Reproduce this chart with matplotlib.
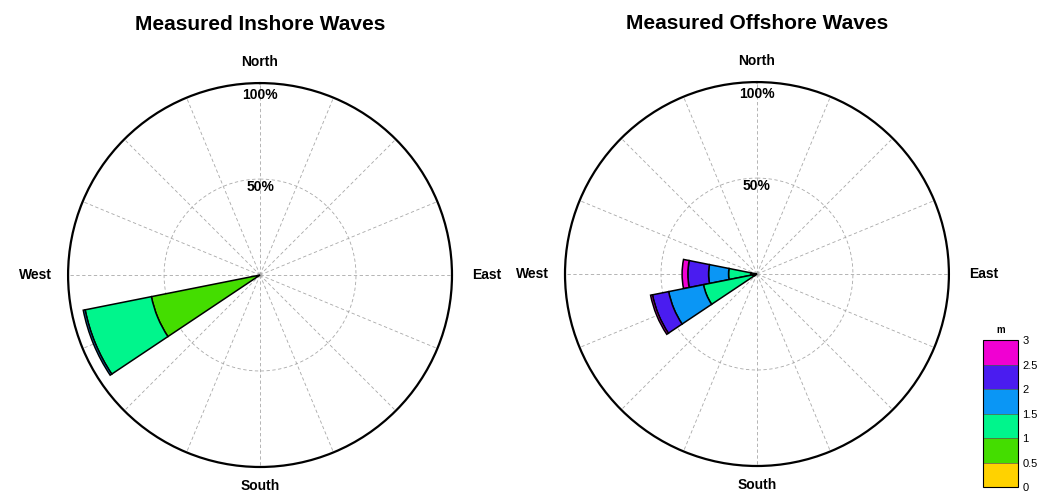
import numpy as np
import matplotlib
matplotlib.use("Agg")
import matplotlib.pyplot as plt
from matplotlib.colors import ListedColormap, BoundaryNorm
from matplotlib.colorbar import ColorbarBase

plt.rcParams['font.family'] = ['Liberation Sans', 'DejaVu Sans']

# wave height bins (m) and colours
height_edges = [0, 0.5, 1, 1.5, 2, 2.5, 3]
height_tick_labels = ['0', '0.5', '1', '1.5', '2', '2.5', '3']
bin_colors = ['#ffd200', '#44dd00', '#00f58c', '#0a96f5', '#4a1cf0', '#f000d2']

# direction sectors (compass degrees) and % occurrence per height bin
inshore_dirs = [247.5]
inshore_pct = {
    247.5: [0.0, 57.7, 35.2, 1.0, 0.0, 0.0],
}

offshore_dirs = [270.0, 247.5]
offshore_pct = {
    270.0: [0.0, 3.0, 11.8, 10.4, 10.8, 3.0],
    247.5: [0.0, 2.0, 26.4, 18.5, 8.6, 1.0],
}

sector_width = 22.5


def wave_rose(ax, title, dirs, pct):
    ax.set_theta_zero_location('N')
    ax.set_theta_direction(-1)
    ax.set_ylim(0, 100)
    ax.set_xticks([])
    ax.set_yticks([])
    ax.grid(False)
    ax.spines['polar'].set_linewidth(1.6)
    ax.spines['polar'].set_color('black')

    # dashed spokes and half circle
    for d in np.arange(0, 360, 22.5):
        ax.plot([np.radians(d)] * 2, [0, 100], color='#a8a8a8', lw=0.6,
                ls=(0, (4, 3)), zorder=1)
    circ = np.linspace(0, 2 * np.pi, 361)
    ax.plot(circ, np.full_like(circ, 50), color='#a8a8a8', lw=0.6,
            ls=(0, (4, 3)), zorder=1)

    for d in dirs:
        bottom = 0.0
        for val, col in zip(pct[d], bin_colors):
            if val > 0:
                ax.bar(np.radians(d), val, width=np.radians(sector_width),
                       bottom=bottom, color=col, edgecolor='black',
                       linewidth=1.1, zorder=3)
            bottom += val

    ax.set_title(title, fontsize=15, fontweight='bold', pad=38)
    kw = dict(transform=ax.transAxes, ha='center', va='center',
              fontsize=10, fontweight='bold')
    ax.text(0.5, 1.055, 'North', **kw)
    ax.text(0.5, -0.05, 'South', **kw)
    ax.text(-0.085, 0.5, 'West', **kw)
    ax.text(1.09, 0.5, 'East', **kw)
    ax.text(0.5, 0.97, '100%', **kw)
    ax.text(0.5, 0.73, '50%', **kw)


fig = plt.figure(figsize=(10.42, 4.96), dpi=100)
ax1 = fig.add_axes([0.0653, 0.0585, 0.3685, 0.774], projection='polar')
ax2 = fig.add_axes([0.5422, 0.0605, 0.3685, 0.774], projection='polar')
wave_rose(ax1, 'Measured Inshore Waves', inshore_dirs, inshore_pct)
wave_rose(ax2, 'Measured Offshore Waves', offshore_dirs, offshore_pct)

cax = fig.add_axes([0.9434, 0.018, 0.0336, 0.296])
cmap = ListedColormap(bin_colors)
norm = BoundaryNorm(height_edges, cmap.N)
cb = ColorbarBase(cax, cmap=cmap, norm=norm, ticks=height_edges)
cb.set_ticklabels(height_tick_labels)
cb.ax.tick_params(labelsize=8, length=0, pad=3)
cb.outline.set_linewidth(0.8)
cb.ax.set_title('m', fontsize=7, fontweight='bold', pad=5)
for e in height_edges[1:-1]:
    cax.axhline(e, color='#555555', lw=0.5)

fig.savefig('out.png', dpi=100)
